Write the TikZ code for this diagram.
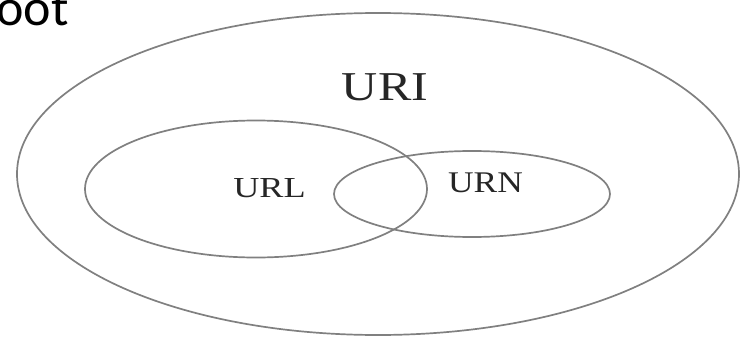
\documentclass[tikz,border=0pt]{standalone}
\usepackage{fontspec}
\setmainfont{Liberation Serif}
\newfontfamily\slidefont{Carlito}
\usetikzlibrary{shapes.geometric}
\tikzset{
  setshape/.style={draw=setgray, line width=1.7pt, ellipse, inner sep=0pt},
  setlabel/.style={inner sep=0pt, anchor=base, text=black!85},
}
\definecolor{setgray}{HTML}{808080}
\begin{document}
\begin{tikzpicture}[x=1pt,y=-1pt]
\useasboundingbox[fill=white] (0,0) rectangle (740,340);
\node[setshape, minimum width=722pt, minimum height=322pt] (uri) at (378,174) {};
\node[setshape, minimum width=342pt, minimum height=137pt] (url) at (256,189) {};
\node[setshape, minimum width=276pt, minimum height=86pt] (urn) at (472,194) {};
\node[setlabel, font=\fontsize{41}{41}\selectfont] (urilabel) at (385,100) {\scalebox{1.22}[1]{URI}};
\node[setlabel, font=\fontsize{29}{29}\selectfont] (urllabel) at (269.5,197) {\scalebox{1.25}[1]{URL}};
\node[setlabel, font=\fontsize{30}{30}\selectfont] (urnlabel) at (485.5,192) {\scalebox{1.18}[1]{URN}};
\node[inner sep=0pt, anchor=base west, font=\slidefont\fontsize{52}{52}\selectfont] (frag) at (-4,25) {oot};
\end{tikzpicture}
\end{document}
